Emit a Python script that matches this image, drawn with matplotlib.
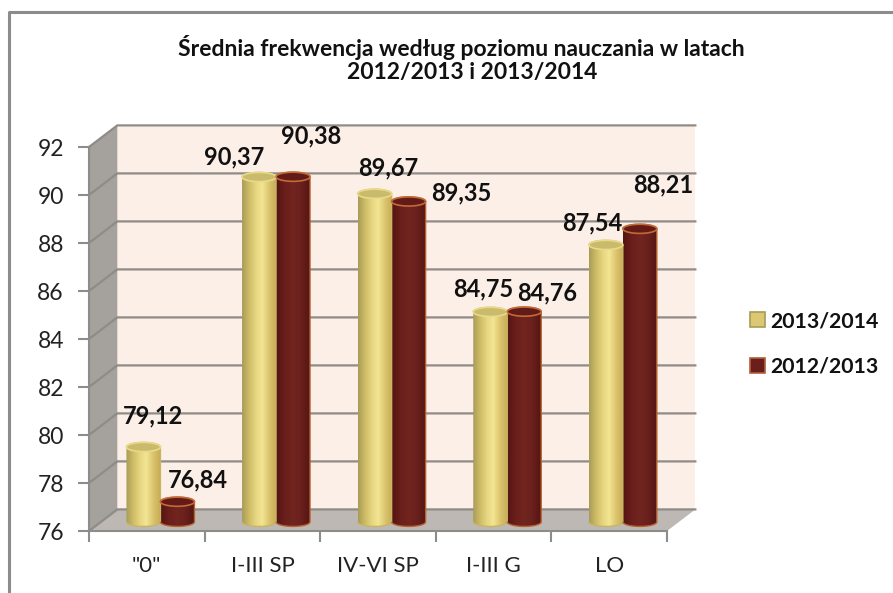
import numpy as np
import matplotlib
matplotlib.use("Agg")
import matplotlib.pyplot as plt
from matplotlib.colors import LinearSegmentedColormap
from matplotlib.patches import Patch, PathPatch, Polygon
from matplotlib.path import Path

categories = ['"0"', "I-III SP", "IV-VI SP", "I-III G", "LO"]
values_1314 = [79.12, 90.37, 89.67, 84.75, 87.54]
values_1213 = [76.84, 90.38, 89.35, 84.76, 88.21]
labels_1314 = ["79,12", "90,37", "89,67", "84,75", "87,54"]
labels_1213 = ["76,84", "90,38", "89,35", "84,76", "88,21"]
yticks = [76, 78, 80, 82, 84, 86, 88, 90, 92]

# label shifts from the top of each bar, in pixels
shift_1314 = [(10, 31), (-25, 20), (14, 26), (-7, 23), (-14, 22)]
shift_1213 = [(20, 22), (18, 41), (53, 9), (23, 19), (23, 44)]

plt.rcParams["font.family"] = ["Lato", "DejaVu Sans"]

gold = LinearSegmentedColormap.from_list(
    "gold", ["#A89C58", "#CDBB66", "#E6D580", "#F3E593", "#DCC56E", "#C9AE58"])
maroon = LinearSegmentedColormap.from_list(
    "maroon", ["#541412", "#6A1F1C", "#72251F", "#6A201D", "#541613"])

DX = 0.245   # depth of the box, categories
DY = 0.9     # depth of the box, y units
BAR_W = 0.294
BASE = 0.38
EH = 0.19    # half height of the ellipse


def cylinder(ax, x0, top, cmap, edge, cap, cap_edge):
    x1 = x0 + BAR_W
    xc = (x0 + x1) / 2
    t = np.linspace(0, np.pi, 40)
    bottom_y = 76 + BASE
    top_y = top + BASE
    xs = np.r_[xc - BAR_W / 2 * np.cos(t), xc + BAR_W / 2 * np.cos(t)]
    ys = np.r_[bottom_y - EH * np.sin(t), top_y + EH * np.sin(t)]
    body = PathPatch(Path(np.c_[xs, ys]), fc="none", ec=edge, lw=1, zorder=4)
    ax.add_patch(body)
    im = ax.imshow(np.linspace(0, 1, 64).reshape(1, -1), cmap=cmap, aspect="auto",
                   extent=(x0, x1, bottom_y - EH, top_y + EH), zorder=3)
    im.set_clip_path(body)
    e = np.linspace(0, 2 * np.pi, 60)
    ax.add_patch(Polygon(np.c_[xc + BAR_W / 2 * np.cos(e), top_y + EH * np.sin(e)],
                         fc=cap, ec=cap_edge, lw=1.2, zorder=5))


fig = plt.figure(figsize=(8.93, 5.93), dpi=100, facecolor="white")
ax = fig.add_axes([89 / 893, 62 / 593, 578 / 893, 384 / 593])
ax.set_facecolor("none")
n = len(categories)

# walls and floor
ax.add_patch(Polygon([(DX, 76 + DY), (n + DX, 76 + DY), (n + DX, 92 + DY), (DX, 92 + DY)],
                     fc="#FCEFE7", ec="none", clip_on=False, zorder=0))
ax.add_patch(Polygon([(0, 76), (DX, 76 + DY), (DX, 92 + DY), (0, 92)],
                     fc="#A5A19D", ec="none", clip_on=False, zorder=0))
ax.add_patch(Polygon([(0, 76), (n, 76), (n + DX, 76 + DY), (DX, 76 + DY)],
                     fc="#BDB8B3", ec="none", clip_on=False, zorder=1))
for v in yticks:
    ax.plot([0, DX, n + DX], [v, v + DY, v + DY], color="#8F8B87", lw=1.6,
            clip_on=False, zorder=1, solid_joinstyle="miter")

pos = np.arange(n) + 0.618
for i in range(n):
    cylinder(ax, pos[i] - BAR_W, values_1314[i], gold, "#C8B565", "#C9BA6C", "#E8DA88")
    cylinder(ax, pos[i], values_1213[i], maroon, "#B9602F", "#631B18", "#C46A38")
    ax.annotate(labels_1314[i], (pos[i] - BAR_W / 2, values_1314[i] + BASE),
                xytext=shift_1314[i], textcoords="offset pixels", ha="center", va="center",
                fontsize=17, fontweight="bold", color="#111111", zorder=6)
    ax.annotate(labels_1213[i], (pos[i] + BAR_W / 2, values_1213[i] + BASE),
                xytext=shift_1213[i], textcoords="offset pixels", ha="center", va="center",
                fontsize=17, fontweight="bold", color="#111111", zorder=6)

ax.set_xlim(0, n)
ax.set_ylim(76, 92)
ax.set_yticks(yticks)
ax.set_xticks(np.arange(n + 1))
ax.set_xticklabels([])
ax.set_xticks(np.arange(n) + 0.5, categories, minor=True)
ax.tick_params(axis="x", which="major", length=8, width=1.5, color="#8C8C8C")
ax.tick_params(axis="x", which="minor", length=0, pad=18, labelsize=16, labelcolor="#222222")
ax.tick_params(axis="y", length=8, width=1.5, color="#8C8C8C", pad=10,
               labelsize=16.5, labelcolor="#222222")
for s in ["top", "right"]:
    ax.spines[s].set_visible(False)
for s in ["left", "bottom"]:
    ax.spines[s].set_color("#8C8C8C")
    ax.spines[s].set_linewidth(1.5)

fig.text(461 / 893, 1 - 47 / 593, "Średnia frekwencja według poziomu nauczania w latach",
         ha="center", va="center", fontsize=16.5, fontweight="bold", color="#111111")
fig.text(472 / 893, 1 - 73 / 593, "2012/2013 i 2013/2014",
         ha="center", va="center", fontsize=16.5, fontweight="bold", color="#111111")

handles = [Patch(fc="#DCC873", ec="#A89B55", lw=1.2, label="2013/2014"),
           Patch(fc="#6B1F1D", ec="#B0603A", lw=1.2, label="2012/2013")]
fig.legend(handles=handles, loc="center left", bbox_to_anchor=(750 / 893, 1 - 344 / 593),
           frameon=False, borderaxespad=0, borderpad=0, handlelength=0.7, handleheight=0.7,
           handletextpad=0.24, labelspacing=1.19, prop={"size": 15.3, "weight": "bold"},
           labelcolor="#111111")

# outer frame, only top and left
fig.add_artist(plt.Line2D([9 / 893, 9 / 893, 1], [0, 1 - 12 / 593, 1 - 12 / 593],
                          color="#8C8C8C", lw=2.2, transform=fig.transFigure))

fig.savefig("out.png", dpi=100)
